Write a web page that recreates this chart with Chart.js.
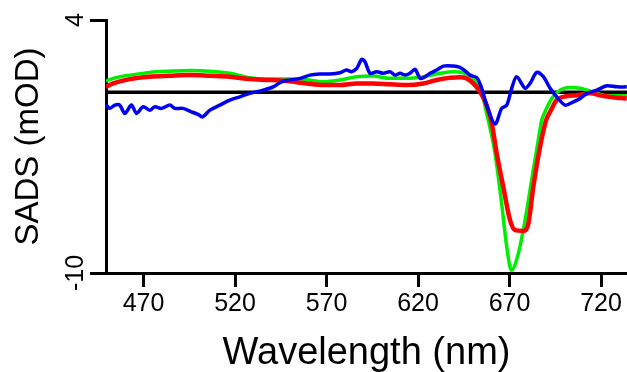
<!DOCTYPE html>
<html lang="en">
<head>
    <meta charset="UTF-8">
    <title>SADS</title>
    <script src="https://cdn.jsdelivr.net/npm/chart.js"></script>
    <style>
        body {
            margin: 0;
            background: #ffffff;
        }
        canvas {
            display: block;
        }
    </style>
</head>
<body>
    <canvas id="sadsChart" width="627" height="372"></canvas>

    <script>
        // tick labels
        const xTicks = [470, 520, 570, 620, 670, 720];
        const yTicks = [4, -10];

        // green component
        const greenNm = [449.4, 453.4, 462.5, 473.4, 484.4, 495.3, 506.3, 517.2, 528.1, 537.2, 548.2, 555.5,
            568.2, 577.3, 586.5, 595.5, 604.7, 613.8, 622.9, 632.0, 639.3, 644.7, 649.3, 652.1, 653.9,
            655.7, 657.5, 658.4, 662.1, 665.7, 668.5, 671.0, 674.8, 678.5, 682.1, 685.7, 687.6, 689.4,
            693.1, 697.6, 703.1, 708.6, 714.0, 721.3, 728.6, 734.1];
        const greenVal = [0.62, 0.77, 0.95, 1.10, 1.17, 1.21, 1.17, 1.05, 0.80, 0.73, 0.73, 0.73,
            0.58, 0.68, 0.86, 0.90, 0.77, 0.77, 0.86, 1.05, 1.14, 1.08, 0.86, 0.49, 0.22,
            -0.34, -1.17, -1.54, -3.38, -6.16, -8.56, -9.85, -8.93, -7.08, -4.86, -2.65, -1.54, -1.08,
            -0.34, 0.12, 0.27, 0.22, 0.07, -0.16, -0.19, -0.19];

        // red component
        const redNm = [449.4, 453.4, 462.5, 473.4, 484.4, 495.3, 506.3, 517.2, 528.1, 539.1, 548.2, 559.1,
            568.2, 577.3, 586.5, 595.5, 604.7, 613.8, 622.9, 630.2, 637.5, 642.9, 646.6, 650.2, 653.9,
            657.5, 660.3, 663.0, 666.6, 670.3, 673.0, 677.5, 680.3, 683.0, 686.7, 690.0, 692.2, 695.8,
            699.4, 706.7, 714.0, 721.3, 728.6, 734.1];
        const redVal = [0.30, 0.49, 0.73, 0.86, 0.91, 0.95, 0.91, 0.86, 0.73, 0.68, 0.62, 0.49,
            0.40, 0.40, 0.49, 0.49, 0.44, 0.40, 0.49, 0.68, 0.80, 0.83, 0.77, 0.49, 0.03,
            -0.71, -1.72, -3.38, -5.24, -7.08, -7.63, -7.67, -7.26, -5.24, -3.02, -1.54, -1.08, -0.43,
            -0.25, -0.16, -0.06, -0.21, -0.30, -0.34];

        // blue component
        const blueNm = [449.4, 451.5, 454.3, 457.0, 459.8, 463.4, 466.2, 469.8, 473.4, 476.2, 479.8, 484.4,
            487.1, 491.6, 496.2, 499.8, 502.3, 506.3, 511.7, 517.2, 522.7, 528.1, 535.4, 540.9, 545.5,
            550.0, 555.5, 560.9, 566.4, 571.9, 577.3, 580.9, 583.7, 586.5, 589.2, 591.0, 593.8, 597.4,
            601.1, 604.7, 607.5, 610.2, 613.0, 615.6, 618.4, 621.1, 623.9, 626.6, 630.2, 633.8, 639.3,
            642.9, 645.7, 648.4, 652.1, 654.8, 657.5, 662.1, 665.7, 668.5, 671.2, 673.9, 678.5, 681.2,
            684.9, 688.5, 692.2, 695.8, 700.4, 704.9, 708.6, 712.3, 717.7, 723.2, 728.6, 734.1];
        const blueVal = [-0.67, -0.89, -0.71, -0.71, -1.17, -0.71, -1.17, -0.80, -0.99, -0.80, -0.89, -0.71,
            -0.89, -0.89, -1.08, -1.22, -1.36, -0.99, -0.71, -0.43, -0.25, -0.06, 0.12, 0.30, 0.58,
            0.68, 0.77, 0.95, 1.01, 1.01, 1.08, 1.23, 1.14, 1.32, 1.82, 1.69, 1.05, 1.14,
            1.05, 1.14, 0.95, 1.05, 0.95, 1.05, 1.27, 0.77, 0.86, 1.05, 1.23, 1.45, 1.45,
            1.38, 1.19, 0.95, 0.81, 0.22, -0.71, -1.76, -0.89, -0.71, 0.22, 0.86, 0.22, 0.49,
            1.10, 0.86, 0.22, -0.25, -0.71, -0.53, -0.34, -0.06, 0.12, 0.36, 0.30, 0.30];

        const xMin = 449.5;
        const xMax = 734.2;

        function toPoints(xs, ys) {
            return xs.map((x, i) => ({ x: x, y: ys[i] }));
        }

        const tickFont = { family: 'Liberation Sans', size: 25 };

        // y tick labels are drawn turned, like the original
        const rotatedYLabels = {
            id: 'rotatedYLabels',
            afterDraw(chart) {
                const y = chart.scales.y;
                const c = chart.ctx;
                c.save();
                c.fillStyle = '#000';
                c.font = tickFont.size + 'px "' + tickFont.family + '"';
                c.textAlign = 'center';
                c.textBaseline = 'middle';
                y.ticks.forEach(t => {
                    c.save();
                    c.translate(76, y.getPixelForValue(t.value));
                    c.rotate(-Math.PI / 2);
                    c.fillText(String(t.value), 0, 0);
                    c.restore();
                });
                c.restore();
            }
        };

        const ctx = document.getElementById('sadsChart').getContext('2d');
        const sadsChart = new Chart(ctx, {
            type: 'line',
            data: {
                datasets: [
                    {
                        data: toPoints(blueNm, blueVal),
                        borderColor: '#0000f0',
                        borderWidth: 3.5,
                        pointRadius: 0,
                        tension: 0.3,
                        order: 1
                    },
                    {
                        data: toPoints(redNm, redVal),
                        borderColor: '#ff0000',
                        borderWidth: 4.5,
                        pointRadius: 0,
                        cubicInterpolationMode: 'monotone',
                        order: 2
                    },
                    {
                        data: toPoints(greenNm, greenVal),
                        borderColor: '#00ee00',
                        borderWidth: 3.5,
                        pointRadius: 0,
                        cubicInterpolationMode: 'monotone',
                        order: 3
                    },
                    {
                        data: [{ x: xMin, y: 0 }, { x: xMax, y: 0 }],
                        borderColor: '#000000',
                        borderWidth: 3.5,
                        pointRadius: 0,
                        order: 4
                    }
                ]
            },
            options: {
                responsive: false,
                animation: false,
                layout: { padding: { top: 20, right: 0, bottom: 0, left: 0 } },
                plugins: {
                    legend: { display: false },
                    tooltip: { enabled: false }
                },
                scales: {
                    x: {
                        type: 'linear',
                        min: xMin,
                        max: xMax,
                        afterBuildTicks: s => { s.ticks = xTicks.map(v => ({ value: v })); },
                        afterFit: s => { s.height = 99; },
                        grid: { drawOnChartArea: false, tickLength: 14, color: '#000', lineWidth: 3 },
                        border: { color: '#000', width: 3 },
                        ticks: { font: tickFont, color: '#000', padding: 2, maxRotation: 0 },
                        title: {
                            display: true,
                            text: 'Wavelength (nm)',
                            color: '#000',
                            font: { family: 'Liberation Sans', size: 38 },
                            padding: { top: 0, bottom: -4 }
                        }
                    },
                    y: {
                        min: -10,
                        max: 4,
                        afterBuildTicks: s => { s.ticks = yTicks.map(v => ({ value: v })); },
                        afterFit: s => { s.width = 106; },
                        grid: { drawOnChartArea: false, tickLength: 16, color: '#000', lineWidth: 3 },
                        border: { color: '#000', width: 3 },
                        ticks: { display: false },
                        title: {
                            display: true,
                            text: 'SADS (mOD)',
                            color: '#000',
                            font: { family: 'Liberation Sans', size: 33 },
                            padding: { top: 9, bottom: 0 }
                        }
                    }
                }
            },
            plugins: [rotatedYLabels]
        });
    </script>
</body>
</html>
